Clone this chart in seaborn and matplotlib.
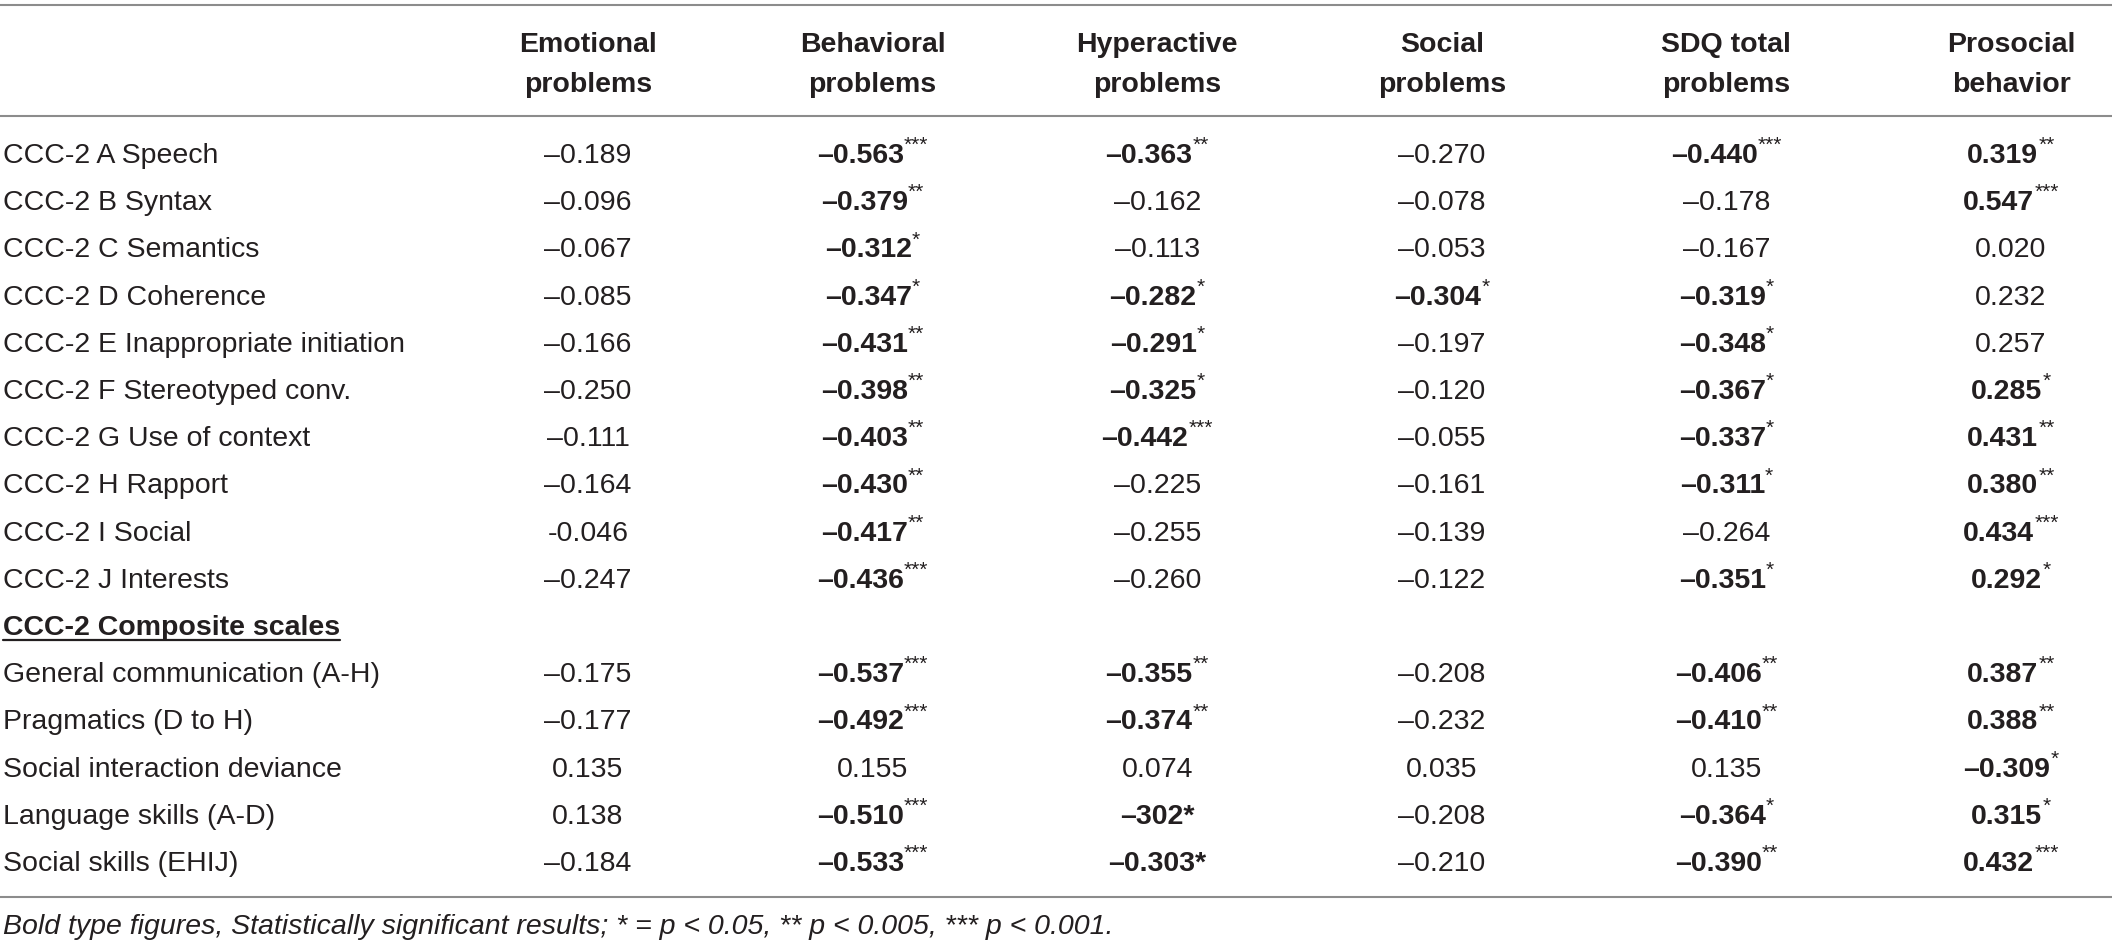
import matplotlib
matplotlib.use("Agg")
import matplotlib.pyplot as plt
import seaborn as sns

# table content
columns = ["Emotional\nproblems", "Behavioral\nproblems", "Hyperactive\nproblems",
           "Social\nproblems", "SDQ total\nproblems", "Prosocial\nbehavior"]

row_labels = [
    "CCC-2 A Speech", "CCC-2 B Syntax", "CCC-2 C Semantics", "CCC-2 D Coherence",
    "CCC-2 E Inappropriate initiation", "CCC-2 F Stereotyped conv.",
    "CCC-2 G Use of context", "CCC-2 H Rapport", "CCC-2 I Social", "CCC-2 J Interests",
    "CCC-2 Composite scales",
    "General communication (A-H)", "Pragmatics (D to H)", "Social interaction deviance",
    "Language skills (A-D)", "Social skills (EHIJ)",
]
section_row = "CCC-2 Composite scales"

# "^" marks a superscript, any "*" makes the value bold
emotional = ["–0.189", "–0.096", "–0.067", "–0.085", "–0.166", "–0.250", "–0.111", "–0.164",
             "-0.046", "–0.247", "–0.175", "–0.177", "0.135", "0.138", "–0.184"]
behavioral = ["–0.563^***", "–0.379^**", "–0.312^*", "–0.347^*", "–0.431^**", "–0.398^**",
              "–0.403^**", "–0.430^**", "–0.417^**", "–0.436^***", "–0.537^***", "–0.492^***",
              "0.155", "–0.510^***", "–0.533^***"]
hyperactive = ["–0.363^**", "–0.162", "–0.113", "–0.282^*", "–0.291^*", "–0.325^*",
               "–0.442^***", "–0.225", "–0.255", "–0.260", "–0.355^**", "–0.374^**",
               "0.074", "–302*", "–0.303*"]
social = ["–0.270", "–0.078", "–0.053", "–0.304^*", "–0.197", "–0.120", "–0.055", "–0.161",
          "–0.139", "–0.122", "–0.208", "–0.232", "0.035", "–0.208", "–0.210"]
sdq_total = ["–0.440^***", "–0.178", "–0.167", "–0.319^*", "–0.348^*", "–0.367^*", "–0.337^*",
             "–0.311^*", "–0.264", "–0.351^*", "–0.406^**", "–0.410^**", "0.135", "–0.364^*",
             "–0.390^**"]
prosocial = ["0.319^**", "0.547^***", "0.020", "0.232", "0.257", "0.285^*", "0.431^**",
             "0.380^**", "0.434^***", "0.292^*", "0.387^**", "0.388^**", "–0.309^*",
             "0.315^*", "0.432^***"]
values = [emotional, behavioral, hyperactive, social, sdq_total, prosocial]

footnote = ("Bold type figures, Statistically significant results; "
            "* = p < 0.05, ** p < 0.005, *** p < 0.001.")

# style
sns.set_theme(style="white")
plt.rcParams['font.family'] = ['Liberation Sans', 'DejaVu Sans']
TXT = "#231f20"
RULE = "#8c8c8c"
FS = 20.5
SUP_FS = 15
RAISE = 12

W, H = 2117, 946
fig = plt.figure(figsize=(W / 100, H / 100), dpi=100)
ax = fig.add_axes([0, 0, 1, 1])
ax.set_xlim(0, W)
ax.set_ylim(H, 0)
ax.axis("off")
renderer = fig.canvas.get_renderer()


def width_of(t):
    return t.get_window_extent(renderer=renderer).width


def draw_cell(cx, y, s):
    bold = "*" in s
    main, _, sup = s.partition("^")
    t1 = ax.text(0, y, main, fontsize=FS, fontweight="bold" if bold else "normal",
                 ha="left", va="baseline", color=TXT)
    w1 = width_of(t1)
    t2 = None
    w2 = 0
    if sup:
        t2 = ax.text(0, y - RAISE, sup, fontsize=SUP_FS, ha="left", va="baseline", color=TXT)
        w2 = width_of(t2)
    x0 = cx - (w1 + w2) / 2
    t1.set_x(x0)
    if t2 is not None:
        t2.set_x(x0 + w1)


col_x0, col_step = 588, 284.6
row_y0, row_step = 163, 47.2
label_x = 3

# rules
for yy in (5, 116, 897):
    ax.plot([0, 2112], [yy, yy], color=RULE, lw=1.5, solid_capstyle="butt")

# header
for j, name in enumerate(columns):
    cx = col_x0 + j * col_step
    for k, line in enumerate(name.split("\n")):
        ax.text(cx, 52 + k * 40, line, fontsize=FS, fontweight="bold",
                ha="center", va="baseline", color=TXT)

# body
vi = 0
for i, label in enumerate(row_labels):
    y = row_y0 + i * row_step
    if label == section_row:
        t = ax.text(label_x, y, label, fontsize=FS, fontweight="bold",
                    ha="left", va="baseline", color=TXT)
        w = width_of(t)
        ax.plot([label_x, label_x + w], [y + 5, y + 5], color=TXT, lw=1.6)
        continue
    ax.text(label_x, y, label, fontsize=FS, ha="left", va="baseline", color=TXT)
    for j, col in enumerate(values):
        draw_cell(col_x0 + j * col_step, y, col[vi])
    vi += 1

ax.text(label_x, 934, footnote, fontsize=FS, fontstyle="italic",
        ha="left", va="baseline", color=TXT)

fig.savefig("out.png", dpi=100, facecolor="white")
